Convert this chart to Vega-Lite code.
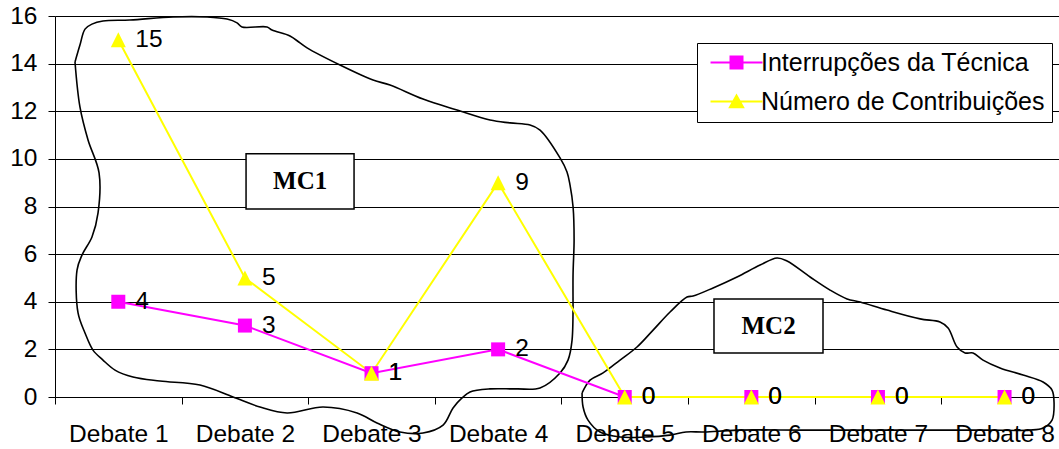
{
  "$schema": "https://vega.github.io/schema/vega-lite/v6.json",
  "width": 1004,
  "height": 381,
  "autosize": {"type": "none"},
  "padding": {"left": 55, "top": 16, "right": 0, "bottom": 52},
  "background": "white",
  "config": {
    "view": {"stroke": null},
    "font": "Liberation Sans"
  },
  "datasets": {
    "series": [
      {"serie": "Interrupções da Técnica", "x": 1, "y": 4},
      {"serie": "Interrupções da Técnica", "x": 2, "y": 3},
      {"serie": "Interrupções da Técnica", "x": 3, "y": 1},
      {"serie": "Interrupções da Técnica", "x": 4, "y": 2},
      {"serie": "Interrupções da Técnica", "x": 5, "y": 0},
      {"serie": "Interrupções da Técnica", "x": 6, "y": 0},
      {"serie": "Interrupções da Técnica", "x": 7, "y": 0},
      {"serie": "Interrupções da Técnica", "x": 8, "y": 0},
      {"serie": "Número de Contribuições", "x": 1, "y": 15},
      {"serie": "Número de Contribuições", "x": 2, "y": 5},
      {"serie": "Número de Contribuições", "x": 3, "y": 1},
      {"serie": "Número de Contribuições", "x": 4, "y": 9},
      {"serie": "Número de Contribuições", "x": 5, "y": 0},
      {"serie": "Número de Contribuições", "x": 6, "y": 0},
      {"serie": "Número de Contribuições", "x": 7, "y": 0},
      {"serie": "Número de Contribuições", "x": 8, "y": 0}
    ],
    "groups": [
      {"label": "MC1", "x": 2.009, "x2": 2.862, "y": 7.9, "y2": 10.21, "cx": 2.436, "cy": 9.055},
      {"label": "MC2", "x": 5.705, "x2": 6.566, "y": 1.848, "y2": 4.116, "cx": 6.136, "cy": 2.982}
    ],
    "outlines": [
      {"blob": "MC1", "i": 0, "x": 0.658, "y": 14.07},
      {"blob": "MC1", "i": 1, "x": 0.697, "y": 14.78},
      {"blob": "MC1", "i": 2, "x": 0.737, "y": 15.45},
      {"blob": "MC1", "i": 3, "x": 0.792, "y": 15.66},
      {"blob": "MC1", "i": 4, "x": 0.879, "y": 15.79},
      {"blob": "MC1", "i": 5, "x": 1.092, "y": 15.83},
      {"blob": "MC1", "i": 6, "x": 1.432, "y": 15.96},
      {"blob": "MC1", "i": 7, "x": 1.701, "y": 15.96},
      {"blob": "MC1", "i": 8, "x": 1.859, "y": 15.87},
      {"blob": "MC1", "i": 9, "x": 1.938, "y": 15.71},
      {"blob": "MC1", "i": 10, "x": 1.977, "y": 15.54},
      {"blob": "MC1", "i": 11, "x": 2.175, "y": 15.54},
      {"blob": "MC1", "i": 12, "x": 2.214, "y": 15.41},
      {"blob": "MC1", "i": 13, "x": 2.356, "y": 15.16},
      {"blob": "MC1", "i": 14, "x": 2.435, "y": 14.87},
      {"blob": "MC1", "i": 15, "x": 2.491, "y": 14.66},
      {"blob": "MC1", "i": 16, "x": 2.751, "y": 13.94},
      {"blob": "MC1", "i": 17, "x": 3.012, "y": 13.31},
      {"blob": "MC1", "i": 18, "x": 3.146, "y": 13.10},
      {"blob": "MC1", "i": 19, "x": 3.407, "y": 12.51},
      {"blob": "MC1", "i": 20, "x": 3.675, "y": 12.05},
      {"blob": "MC1", "i": 21, "x": 3.936, "y": 11.63},
      {"blob": "MC1", "i": 22, "x": 4.094, "y": 11.51},
      {"blob": "MC1", "i": 23, "x": 4.252, "y": 11.42},
      {"blob": "MC1", "i": 24, "x": 4.331, "y": 11.21},
      {"blob": "MC1", "i": 25, "x": 4.489, "y": 10.04},
      {"blob": "MC1", "i": 26, "x": 4.544, "y": 9.45},
      {"blob": "MC1", "i": 27, "x": 4.568, "y": 8.90},
      {"blob": "MC1", "i": 28, "x": 4.592, "y": 7.98},
      {"blob": "MC1", "i": 29, "x": 4.600, "y": 6.59},
      {"blob": "MC1", "i": 30, "x": 4.592, "y": 5.21},
      {"blob": "MC1", "i": 31, "x": 4.584, "y": 2.39},
      {"blob": "MC1", "i": 32, "x": 4.552, "y": 1.55},
      {"blob": "MC1", "i": 33, "x": 4.489, "y": 1.01},
      {"blob": "MC1", "i": 34, "x": 4.331, "y": 0.38},
      {"blob": "MC1", "i": 35, "x": 4.149, "y": 0.34},
      {"blob": "MC1", "i": 36, "x": 3.936, "y": 0.34},
      {"blob": "MC1", "i": 37, "x": 3.778, "y": 0.21},
      {"blob": "MC1", "i": 38, "x": 3.715, "y": -0.04},
      {"blob": "MC1", "i": 39, "x": 3.644, "y": -0.46},
      {"blob": "MC1", "i": 40, "x": 3.565, "y": -1.18},
      {"blob": "MC1", "i": 41, "x": 3.407, "y": -1.51},
      {"blob": "MC1", "i": 42, "x": 3.225, "y": -1.47},
      {"blob": "MC1", "i": 43, "x": 3.043, "y": -1.09},
      {"blob": "MC1", "i": 44, "x": 2.886, "y": -0.67},
      {"blob": "MC1", "i": 45, "x": 2.617, "y": -0.42},
      {"blob": "MC1", "i": 46, "x": 2.333, "y": -0.67},
      {"blob": "MC1", "i": 47, "x": 2.119, "y": -0.42},
      {"blob": "MC1", "i": 48, "x": 1.906, "y": 0.0},
      {"blob": "MC1", "i": 49, "x": 1.645, "y": 0.50},
      {"blob": "MC1", "i": 50, "x": 1.329, "y": 0.67},
      {"blob": "MC1", "i": 51, "x": 1.116, "y": 0.84},
      {"blob": "MC1", "i": 52, "x": 0.974, "y": 1.13},
      {"blob": "MC1", "i": 53, "x": 0.879, "y": 1.55},
      {"blob": "MC1", "i": 54, "x": 0.800, "y": 1.97},
      {"blob": "MC1", "i": 55, "x": 0.737, "y": 2.69},
      {"blob": "MC1", "i": 56, "x": 0.682, "y": 3.53},
      {"blob": "MC1", "i": 57, "x": 0.674, "y": 5.33},
      {"blob": "MC1", "i": 58, "x": 0.713, "y": 5.96},
      {"blob": "MC1", "i": 59, "x": 0.792, "y": 6.72},
      {"blob": "MC1", "i": 60, "x": 0.840, "y": 7.73},
      {"blob": "MC1", "i": 61, "x": 0.848, "y": 9.41},
      {"blob": "MC1", "i": 62, "x": 0.761, "y": 10.79},
      {"blob": "MC1", "i": 63, "x": 0.697, "y": 12.18},
      {"blob": "MC1", "i": 64, "x": 0.658, "y": 14.07},
      {"blob": "MC2", "i": 0, "x": 4.663, "y": 0.17},
      {"blob": "MC2", "i": 1, "x": 4.726, "y": 0.71},
      {"blob": "MC2", "i": 2, "x": 4.829, "y": 1.01},
      {"blob": "MC2", "i": 3, "x": 4.963, "y": 1.55},
      {"blob": "MC2", "i": 4, "x": 5.097, "y": 2.10},
      {"blob": "MC2", "i": 5, "x": 5.224, "y": 2.81},
      {"blob": "MC2", "i": 6, "x": 5.358, "y": 3.57},
      {"blob": "MC2", "i": 7, "x": 5.492, "y": 4.20},
      {"blob": "MC2", "i": 8, "x": 5.540, "y": 4.24},
      {"blob": "MC2", "i": 9, "x": 5.698, "y": 4.58},
      {"blob": "MC2", "i": 10, "x": 5.887, "y": 5.04},
      {"blob": "MC2", "i": 11, "x": 6.069, "y": 5.54},
      {"blob": "MC2", "i": 12, "x": 6.203, "y": 5.84},
      {"blob": "MC2", "i": 13, "x": 6.282, "y": 5.71},
      {"blob": "MC2", "i": 14, "x": 6.464, "y": 5.04},
      {"blob": "MC2", "i": 15, "x": 6.622, "y": 4.49},
      {"blob": "MC2", "i": 16, "x": 6.756, "y": 4.12},
      {"blob": "MC2", "i": 17, "x": 6.859, "y": 3.99},
      {"blob": "MC2", "i": 18, "x": 7.072, "y": 3.65},
      {"blob": "MC2", "i": 19, "x": 7.333, "y": 3.28},
      {"blob": "MC2", "i": 20, "x": 7.490, "y": 3.15},
      {"blob": "MC2", "i": 21, "x": 7.554, "y": 2.90},
      {"blob": "MC2", "i": 22, "x": 7.625, "y": 2.10},
      {"blob": "MC2", "i": 23, "x": 7.688, "y": 1.85},
      {"blob": "MC2", "i": 24, "x": 7.751, "y": 1.85},
      {"blob": "MC2", "i": 25, "x": 7.830, "y": 1.55},
      {"blob": "MC2", "i": 26, "x": 7.964, "y": 1.22},
      {"blob": "MC2", "i": 27, "x": 8.146, "y": 0.92},
      {"blob": "MC2", "i": 28, "x": 8.304, "y": 0.63},
      {"blob": "MC2", "i": 29, "x": 8.375, "y": 0.29},
      {"blob": "MC2", "i": 30, "x": 8.391, "y": -0.25},
      {"blob": "MC2", "i": 31, "x": 8.375, "y": -0.97},
      {"blob": "MC2", "i": 32, "x": 8.304, "y": -1.30},
      {"blob": "MC2", "i": 33, "x": 8.201, "y": -1.39},
      {"blob": "MC2", "i": 34, "x": 7.862, "y": -1.39},
      {"blob": "MC2", "i": 35, "x": 7.467, "y": -1.39},
      {"blob": "MC2", "i": 36, "x": 6.938, "y": -1.39},
      {"blob": "MC2", "i": 37, "x": 6.408, "y": -1.39},
      {"blob": "MC2", "i": 38, "x": 5.887, "y": -1.39},
      {"blob": "MC2", "i": 39, "x": 5.627, "y": -1.47},
      {"blob": "MC2", "i": 40, "x": 5.484, "y": -1.47},
      {"blob": "MC2", "i": 41, "x": 5.358, "y": -1.60},
      {"blob": "MC2", "i": 42, "x": 5.160, "y": -1.68},
      {"blob": "MC2", "i": 43, "x": 4.963, "y": -1.68},
      {"blob": "MC2", "i": 44, "x": 4.805, "y": -1.47},
      {"blob": "MC2", "i": 45, "x": 4.710, "y": -0.97},
      {"blob": "MC2", "i": 46, "x": 4.671, "y": -0.42},
      {"blob": "MC2", "i": 47, "x": 4.663, "y": 0.17}
    ]
  },
  "layer": [
    {
      "data": {"name": "outlines"},
      "mark": {"type": "line", "color": "black", "strokeWidth": 1.6, "interpolate": "catmull-rom", "clip": false},
      "encoding": {
        "x": {
          "field": "x", "type": "quantitative", "title": null,
          "scale": {"domain": [0.5, 8.43], "nice": false, "zero": false},
          "axis": {
            "title": null, "values": [1, 2, 3, 4, 5, 6, 7, 8],
            "labelExpr": "'Debate ' + datum.value",
            "grid": false, "domainColor": "#000000", "domainWidth": 1,
            "tickColor": "#000000", "tickSize": 7, "tickWidth": 1,
            "tickOffset": -63.3, "labelOffset": 63.3,
            "labelFont": "Liberation Sans", "labelFontSize": 24.5, "labelColor": "#000000",
            "labelPadding": 18, "labelOverlap": false, "labelBound": false, "labelFlush": false
          }
        },
        "y": {
          "field": "y", "type": "quantitative", "title": null,
          "scale": {"domain": [0, 16], "nice": false, "zero": false},
          "axis": {
            "title": null, "values": [0, 2, 4, 6, 8, 10, 12, 14, 16],
            "grid": true, "gridColor": "#000000", "gridWidth": 1,
            "domainColor": "#000000", "domainWidth": 1,
            "tickColor": "#000000", "tickSize": 7,
            "labelFont": "Liberation Sans", "labelFontSize": 24.5, "labelColor": "#000000",
            "labelPadding": 11, "labelOverlap": false, "labelBound": false, "labelFlush": false
          }
        },
        "detail": {"field": "blob"},
        "order": {"field": "i", "type": "quantitative"}
      }
    },
    {
      "data": {"name": "groups"},
      "mark": {"type": "rect", "fill": "white", "stroke": "black", "strokeWidth": 1.5},
      "encoding": {
        "x": {"field": "x", "type": "quantitative", "title": null},
        "x2": {"field": "x2"},
        "y": {"field": "y", "type": "quantitative", "title": null},
        "y2": {"field": "y2"}
      }
    },
    {
      "data": {"name": "groups"},
      "mark": {"type": "text", "font": "Liberation Serif", "fontWeight": "bold", "fontSize": 25, "align": "center", "baseline": "middle", "color": "black"},
      "encoding": {
        "x": {"field": "cx", "type": "quantitative", "title": null},
        "y": {"field": "cy", "type": "quantitative", "title": null},
        "text": {"field": "label"}
      }
    },
    {
      "data": {"name": "series"},
      "mark": {"type": "line", "strokeWidth": 2},
      "encoding": {
        "x": {"field": "x", "type": "quantitative", "title": null},
        "y": {"field": "y", "type": "quantitative", "title": null},
        "color": {
          "field": "serie", "type": "nominal",
          "scale": {"domain": ["Interrupções da Técnica", "Número de Contribuições"], "range": ["#FF00FF", "#FFFF00"]},
          "legend": {
            "title": null, "orient": "none", "legendX": 642, "legendY": 27,
            "strokeColor": "#000000", "fillColor": "#FFFFFF", "padding": 7, "rowPadding": 13,
            "symbolSize": 144, "symbolStrokeWidth": 2, "symbolOffset": 20, "labelOffset": 12,
            "labelFont": "Liberation Sans", "labelFontSize": 25, "labelColor": "#000000", "labelLimit": 0,
            "encode": {
              "symbols": {
                "update": {
                  "shape": {"signal": "datum.value === 'Interrupções da Técnica' ? 'M-4.33,0H4.33M-1,-1H1V1H-1Z' : 'M-4.33,0H4.33M0,-1L1.1,0.95H-1.1Z'"},
                  "fill": {"signal": "datum.value === 'Interrupções da Técnica' ? '#FF00FF' : '#FFFF00'"},
                  "stroke": {"signal": "datum.value === 'Interrupções da Técnica' ? '#FF00FF' : '#FFFF00'"},
                  "strokeWidth": {"value": 2},
                  "opacity": {"value": 1},
                  "fillOpacity": {"value": 1},
                  "strokeOpacity": {"value": 1}
                }
              }
            }
          }
        }
      }
    },
    {
      "data": {"name": "series"},
      "transform": [{"filter": "datum.serie === 'Interrupções da Técnica'"}],
      "mark": {"type": "point", "shape": "M-1,-1H1V1H-1Z", "filled": true, "opacity": 1, "size": 196, "strokeWidth": 0, "color": "#FF00FF"},
      "encoding": {
        "x": {"field": "x", "type": "quantitative", "title": null},
        "y": {"field": "y", "type": "quantitative", "title": null}
      }
    },
    {
      "data": {"name": "series"},
      "transform": [{"filter": "datum.serie === 'Número de Contribuições'"}],
      "mark": {"type": "point", "shape": "M0,-1L1,1H-1Z", "filled": true, "opacity": 1, "size": 225, "strokeWidth": 0, "color": "#FFFF00"},
      "encoding": {
        "x": {"field": "x", "type": "quantitative", "title": null},
        "y": {"field": "y", "type": "quantitative", "title": null}
      }
    },
    {
      "data": {"name": "series"},
      "mark": {"type": "text", "align": "left", "baseline": "middle", "dx": 17, "fontSize": 24.5, "font": "Liberation Sans", "color": "black"},
      "encoding": {
        "x": {"field": "x", "type": "quantitative", "title": null},
        "y": {"field": "y", "type": "quantitative", "title": null},
        "text": {"field": "y", "type": "quantitative"}
      }
    }
  ]
}
